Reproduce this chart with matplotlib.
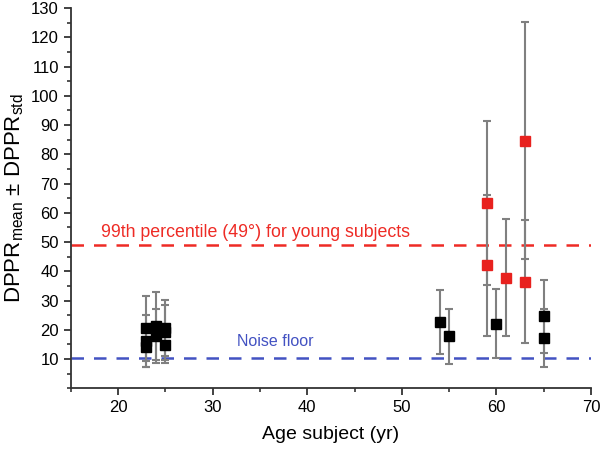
import matplotlib
matplotlib.use("Agg")
import matplotlib.pyplot as plt
from matplotlib.ticker import MultipleLocator

plt.rcParams['font.family'] = ['Liberation Sans', 'DejaVu Sans']
plt.rcParams['mathtext.default'] = 'regular'

# Young subjects (black)
young_age = [23, 23, 23, 24, 24, 25, 25, 25]
young_mean = [20.5, 16.2, 14.2, 21.3, 17.8, 20.7, 19.2, 14.9]
young_std = [11.0, 9.0, 7.0, 11.5, 9.2, 9.6, 9.4, 6.2]

# Old subjects below threshold (black)
old_black_age = [54, 55, 60, 65, 65]
old_black_mean = [22.7, 17.8, 22.0, 24.6, 17.3]
old_black_std = [10.9, 9.4, 11.8, 12.6, 9.9]

# Old subjects above threshold (red)
old_red_age = [59, 59, 61, 63, 63]
old_red_mean = [63.3, 42.0, 37.8, 84.6, 36.5]
old_red_std = [28.0, 24.1, 20.0, 40.5, 20.9]

threshold = 49
noise_floor = 10.3

fig = plt.figure(figsize=(6.0, 4.51), dpi=100)
ax = fig.add_axes([0.118, 0.139, 0.867, 0.843])

err_kw = dict(fmt='none', ecolor='#808080', elinewidth=1.5, capsize=3.2,
              capthick=1.5, zorder=2)
ax.errorbar(young_age, young_mean, yerr=young_std, **err_kw)
ax.errorbar(old_black_age, old_black_mean, yerr=old_black_std, **err_kw)
ax.errorbar(old_red_age, old_red_mean, yerr=old_red_std, **err_kw)

ax.plot(young_age, young_mean, 's', color='black', ms=6.5, zorder=3)
ax.plot(old_black_age, old_black_mean, 's', color='black', ms=6.5, zorder=3)
ax.plot(old_red_age, old_red_mean, 's', color='#e8211e', ms=6.5, zorder=3)

ax.axhline(threshold, color='#ee2b25', lw=1.8, ls=(0, (5, 4)), zorder=1)
ax.axhline(noise_floor, color='#4352c2', lw=1.8, ls=(0, (5, 4)), zorder=1)

ax.text(18.2, 53.4, '99th percentile (49°) for young subjects', color='#ee2b25',
        fontsize=12.8, ha='left', va='center')
ax.text(32.6, 15.9, 'Noise floor', color='#4352c2', fontsize=11.5,
        ha='left', va='center')

ax.set_xlim(15, 70)
ax.set_ylim(0, 130)
ax.xaxis.set_major_locator(MultipleLocator(10))
ax.xaxis.set_minor_locator(MultipleLocator(5))
ax.yaxis.set_major_locator(MultipleLocator(10))
ax.yaxis.set_minor_locator(MultipleLocator(5))
ax.set_yticks(range(10, 131, 10))

for s in ['top', 'right']:
    ax.spines[s].set_visible(False)
for s in ['left', 'bottom']:
    ax.spines[s].set_linewidth(1.3)
    ax.spines[s].set_color('#333333')

ax.tick_params(which='major', direction='out', length=5, width=1.3,
               color='#333333', labelsize=12)
ax.tick_params(which='minor', direction='out', length=3, width=1.2,
               color='#333333')

ax.set_xlabel('Age subject (yr)', fontsize=14, labelpad=8)
ax.set_ylabel('DPPR$_{mean}$ ± DPPR$_{std}$', fontsize=16, labelpad=4)

fig.savefig('out.png', dpi=100)
